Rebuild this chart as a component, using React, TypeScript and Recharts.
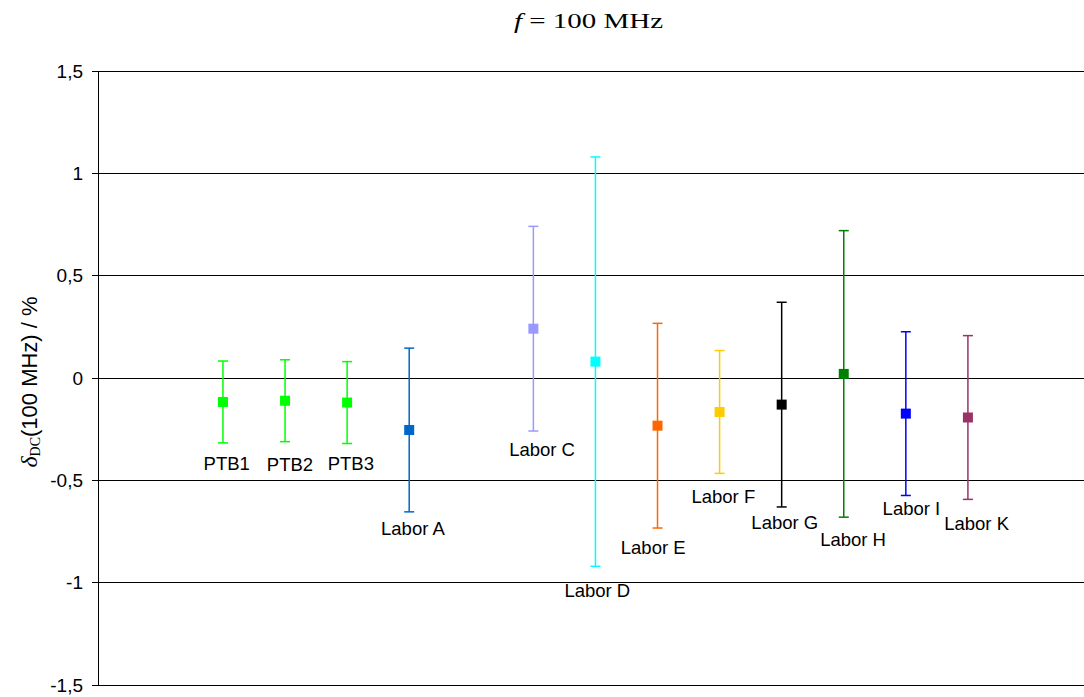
import { ScatterChart, Scatter, XAxis, YAxis, CartesianGrid, ErrorBar } from "recharts";

// participants, in plotting order
const labs = ["PTB1", "PTB2", "PTB3", "Labor A", "Labor C", "Labor D", "Labor E", "Labor F", "Labor G", "Labor H", "Labor I", "Labor K"];
const slot = [2, 3, 4, 5, 7, 8, 9, 10, 11, 12, 13, 14];
const deltaDC = [-0.117, -0.111, -0.12, -0.254, 0.241, 0.08, -0.233, -0.166, -0.13, 0.02, -0.174, -0.193];
const uncert = [0.2, 0.2, 0.2, 0.4, 0.5, 1.0, 0.5, 0.3, 0.5, 0.7, 0.4, 0.4];
const colors = ["#00FF00", "#00FF00", "#00FF00", "#0066CC", "#9999FF", "#00FFFF", "#FF6600", "#FFCC00", "#000000", "#008000", "#0000FF", "#993366"];
const yTicks = [1.5, 1, 0.5, 0, -0.5, -1, -1.5];

// data labels were moved by hand in the original, anchor points in data units
const labelX = [2.06, 3.08, 4.06, 5.06, 7.14, 8.03, 8.93, 10.06, 11.05, 12.15, 13.09, 14.14];
const labelY = [-0.42, -0.425, -0.42, -0.733, -0.347, -1.036, -0.826, -0.577, -0.708, -0.787, -0.64, -0.713];

const SANS = '"Liberation Sans", Arial, sans-serif';
const SERIF = '"Liberation Serif", "Times New Roman", serif';

const square = (color: string) => (p: any) =>
  <rect x={p.cx - 5} y={p.cy - 5} width={10} height={10} fill={color} />;

const labelShape = (p: any) => (
  <text x={p.cx} y={p.cy} textAnchor="middle" dominantBaseline="central"
    fontFamily={SANS} fontSize={18.5} fill="#000">
    {p.payload.name}
  </text>
);

export default function App() {
  const labelData = labs.map((name, i) => ({ name, x: labelX[i], y: labelY[i] }));

  return (
    <div style={{ position: "absolute", left: 0, top: 0, width: 1084, height: 697, background: "#fff", overflow: "hidden" }}>
      <ScatterChart width={1084} height={697} margin={{ top: 71, right: 0, bottom: 12, left: 0 }}>
        <CartesianGrid vertical={false} stroke="#000" strokeWidth={1} shapeRendering="crispEdges" />
        <XAxis type="number" dataKey="x" domain={[-0.013, 15.87]} hide />
        <YAxis
          type="number"
          dataKey="y"
          domain={[-1.5, 1.5]}
          ticks={yTicks}
          width={98}
          tickSize={6}
          tickMargin={9}
          stroke="#000"
          tick={{ fill: "#000", fontSize: 19, fontFamily: SANS }}
          tickFormatter={(v: number) => String(v).replace(".", ",")}
          shapeRendering="crispEdges"
        />
        {labs.map((name, i) => (
          <Scatter
            key={name}
            name={name}
            data={[{ name, x: slot[i], y: deltaDC[i], err: uncert[i] }]}
            fill={colors[i]}
            shape={square(colors[i])}
            isAnimationActive={false}
          >
            <ErrorBar dataKey="err" direction="y" width={5} stroke={colors[i]} strokeWidth={1.5} isAnimationActive={false} />
          </Scatter>
        ))}
        <Scatter data={labelData} shape={labelShape} isAnimationActive={false} />
      </ScatterChart>

      <svg width={1084} height={697} style={{ position: "absolute", left: 0, top: 0, pointerEvents: "none" }}>
        <text x={514} y={28} fontFamily={SERIF} fontSize={22} fill="#000" textLength={149} lengthAdjust="spacingAndGlyphs">
          <tspan fontStyle="italic">f</tspan> = 100 MHz
        </text>
        <text transform="rotate(-90)" x={-382} y={37} textAnchor="middle" fill="#000">
          <tspan fontFamily={SERIF} fontStyle="italic" fontSize={24}>δ</tspan>
          <tspan fontFamily={SERIF} fontSize={14} dy={3}>DC</tspan>
          <tspan fontFamily={SANS} fontSize={22} dy={-3}>(100 MHz) / %</tspan>
        </text>
      </svg>
    </div>
  );
}
